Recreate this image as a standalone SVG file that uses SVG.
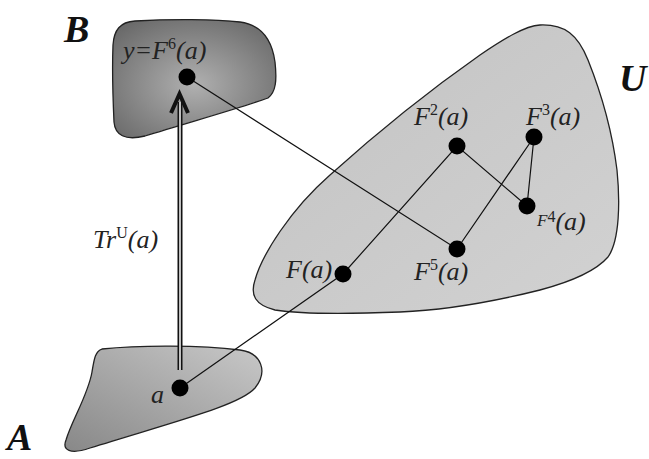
<svg xmlns="http://www.w3.org/2000/svg" width="649" height="459" viewBox="0 0 649 459">
<style>
.region{stroke:#222;stroke-width:1.3}
.dot{fill:#000}
.lbl{font-family:"Liberation Serif",serif;font-style:italic;font-size:26px;fill:#222}
.big{font-family:"Liberation Serif",serif;font-style:italic;font-weight:bold;font-size:38px;fill:#111}
.sup{font-size:16px}
.edge{stroke:#111;stroke-width:1.2;fill:none}
</style>
<defs>
<radialGradient id="gB" cx="0.5" cy="0.55" r="0.65">
<stop offset="0" stop-color="#b0b0b0"/>
<stop offset="1" stop-color="#6a6a6a"/>
</radialGradient>
<linearGradient id="gA" x1="0" y1="1" x2="1" y2="0">
<stop offset="0" stop-color="#888"/>
<stop offset="1" stop-color="#c8c8c8"/>
</linearGradient>
<linearGradient id="gU" x1="0" y1="0" x2="1" y2="1">
<stop offset="0" stop-color="#c2c2c2"/>
<stop offset="1" stop-color="#d2d2d2"/>
</linearGradient>
</defs>
<rect width="649" height="459" fill="#fff"/>
<g id="regionU">
<path class="region" fill="url(#gU)" d="M540,25 C565,24 578,35 588,60 C600,90 612,130 617,170 C620,200 620,240 608,257 C595,272 570,282 540,290 C500,300 450,310 400,312 C350,314 300,314 275,310 C255,305 250,295 255,280 C262,255 290,210 330,175 C380,130 430,90 480,55 C505,38 525,26 540,25 Z"/>
<text class="big" x="619" y="91" font-size="35">U</text>
</g>
<g id="regionB">
<path class="region" fill="url(#gB)" d="M135,21 C170,19 215,19 240,22 C262,25 272,40 275,62 C277,80 276,92 268,98 C240,108 190,122 145,136 C125,141 115,135 114,122 C113,100 112,70 113,45 C114,30 120,22 135,21 Z"/>
<text class="big" x="64" y="42">B</text>
</g>
<g id="regionA">
<path class="region" fill="url(#gA)" d="M102,349 C140,345 200,345 240,350 C262,353 268,372 255,388 C240,405 180,420 90,448 C70,455 62,450 66,440 C72,420 88,395 92,372 C94,360 95,351 102,349 Z"/>
<text class="big" x="7" y="450">A</text>
</g>
<g id="connectors">
<polyline class="edge" points="180,388 343,274 457,146 527,206 534,137 457,249 187,77"/>
<line x1="180" y1="370" x2="180" y2="102" stroke="#111" stroke-width="5"/>
<line x1="180" y1="370" x2="180" y2="102" stroke="#eee" stroke-width="1.6"/>
<polyline points="171,113 179.5,94 188,113" fill="none" stroke="#111" stroke-width="4" stroke-linejoin="miter"/>
<text class="lbl" x="93" y="248">Tr<tspan class="sup" dy="-10" font-style="normal">U</tspan><tspan dy="10">(a)</tspan></text>
</g>
<g id="node-a">
<circle class="dot" cx="180" cy="388" r="8.5"/>
<text class="lbl" x="151" y="403">a</text>
</g>
<g id="node-F1">
<circle class="dot" cx="343" cy="274" r="8.5"/>
<text class="lbl" x="286" y="278">F(a)</text>
</g>
<g id="node-F2">
<circle class="dot" cx="457" cy="146" r="8.5"/>
<text class="lbl" x="414" y="125">F<tspan class="sup" dy="-10" font-style="normal">2</tspan><tspan dy="10">(a)</tspan></text>
</g>
<g id="node-F3">
<circle class="dot" cx="534" cy="137" r="8.5"/>
<text class="lbl" x="526" y="125">F<tspan class="sup" dy="-10" font-style="normal">3</tspan><tspan dy="10">(a)</tspan></text>
</g>
<g id="node-F4">
<circle class="dot" cx="527" cy="206" r="8.5"/>
<text class="lbl" x="537" y="230"><tspan font-size="17" dy="-4">F</tspan><tspan class="sup" dy="-4" font-style="normal">4</tspan><tspan dy="8">(a)</tspan></text>
</g>
<g id="node-F5">
<circle class="dot" cx="457" cy="249" r="8.5"/>
<text class="lbl" x="414" y="280">F<tspan class="sup" dy="-10" font-style="normal">5</tspan><tspan dy="10">(a)</tspan></text>
</g>
<g id="node-y">
<circle class="dot" cx="187" cy="77" r="8.5"/>
<text class="lbl" x="123" y="59">y=F<tspan class="sup" dy="-10" font-style="normal">6</tspan><tspan dy="10">(a)</tspan></text>
</g>
</svg>
